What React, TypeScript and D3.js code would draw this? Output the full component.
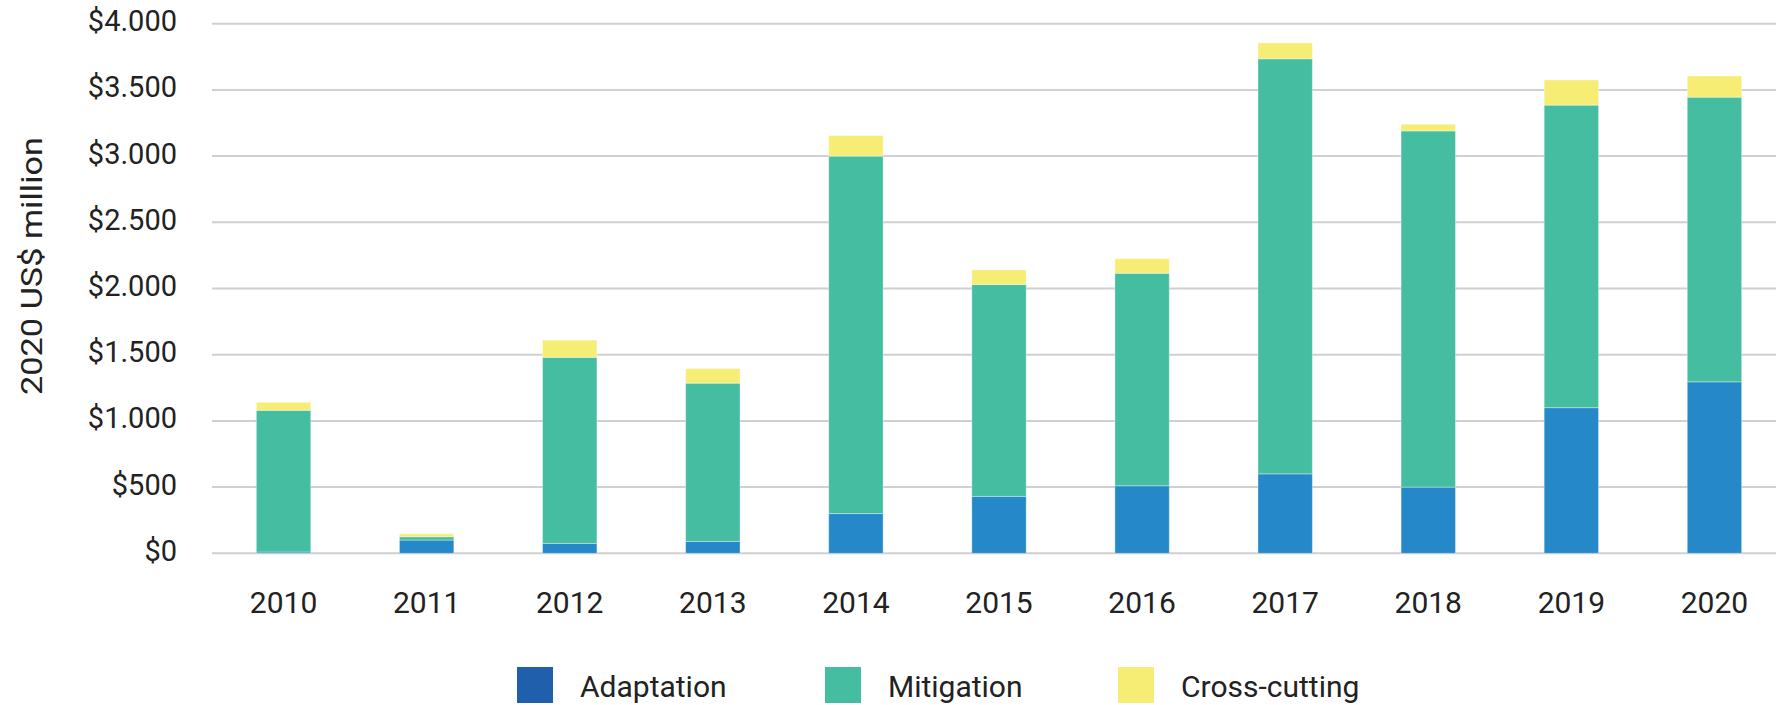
import React, { useEffect, useRef } from "react";
import * as d3 from "d3";

// data (2020 US$ million)
const years = ["2010", "2011", "2012", "2013", "2014", "2015", "2016", "2017", "2018", "2019", "2020"];
const adaptation = [10, 100, 75, 90, 300, 430, 510, 600, 500, 1100, 1295];
const mitigation = [1070, 25, 1405, 1195, 2700, 1600, 1605, 3135, 2690, 2285, 2150];
const crossCutting = [60, 23, 130, 110, 155, 110, 110, 120, 50, 190, 160];

const seriesNames = ["Adaptation", "Mitigation", "Cross-cutting"];
const barColors = ["#2488c9", "#45bda0", "#f6ee74"];
const legendColors = ["#1f5fab", "#45bda0", "#f6ee74"];
const yTicks = [0, 500, 1000, 1500, 2000, 2500, 3000, 3500, 4000];

const W = 1776;
const H = 705;
const FONT = "Roboto, 'Noto Sans', sans-serif";

const App = () => {
  const ref = useRef<SVGSVGElement>(null);

  useEffect(() => {
    const svg = d3.select(ref.current);
    svg.selectAll("*").remove();

    const rows = years.map((y, i) => ({
      year: y,
      a: adaptation[i],
      m: mitigation[i],
      c: crossCutting[i],
    }));
    const stacked = d3.stack<any>().keys(["a", "m", "c"])(rows);

    const x = d3.scaleBand().domain(years).range([212, 1786]).paddingInner(0.62).paddingOuter(0.31);
    const y = d3.scaleLinear().domain([0, 4000]).range([553.3, 23.7]);

    // gridlines + y labels
    const yg = svg.append("g");
    yg.selectAll("line")
      .data(yTicks)
      .enter()
      .append("line")
      .attr("x1", 212)
      .attr("x2", W)
      .attr("y1", (d) => y(d))
      .attr("y2", (d) => y(d))
      .attr("stroke", "#d0d0d0")
      .attr("stroke-width", 2);
    yg.selectAll("text")
      .data(yTicks)
      .enter()
      .append("text")
      .attr("x", 177)
      .attr("y", (d) => y(d) - 3)
      .attr("dy", "0.36em")
      .attr("text-anchor", "end")
      .attr("font-family", FONT)
      .attr("font-size", 29)
      .attr("fill", "#222")
      .text((d) => "$" + d3.format(",")(d).replace(",", "."));

    // stacked bars
    svg
      .append("g")
      .selectAll("g")
      .data(stacked)
      .enter()
      .append("g")
      .attr("fill", (_, i) => barColors[i])
      .selectAll("rect")
      .data((s) => s)
      .enter()
      .append("rect")
      .attr("x", (d: any) => x(d.data.year)!)
      .attr("width", x.bandwidth())
      .attr("y", (d) => y(d[1]))
      .attr("height", (d) => y(d[0]) - y(d[1]))
      .attr("stroke", "rgba(255,255,255,0.35)")
      .attr("stroke-width", 1);

    // x labels
    svg
      .append("g")
      .selectAll("text")
      .data(years)
      .enter()
      .append("text")
      .attr("x", (d) => x(d)! + x.bandwidth() / 2)
      .attr("y", 613)
      .attr("text-anchor", "middle")
      .attr("font-family", FONT)
      .attr("font-size", 30)
      .attr("fill", "#222")
      .text((d) => d);

    // y title
    svg
      .append("text")
      .attr("transform", `translate(42,266) rotate(-90)`)
      .attr("text-anchor", "middle")
      .attr("font-family", FONT)
      .attr("font-size", 29)
      .attr("fill", "#222")
      .attr("textLength", 258)
      .attr("lengthAdjust", "spacingAndGlyphs")
      .text("2020 US$ million");

    // legend
    const legendX = [517, 825, 1118];
    const lg = svg
      .append("g")
      .selectAll("g")
      .data(seriesNames)
      .enter()
      .append("g")
      .attr("transform", (_, i) => `translate(${legendX[i]},667)`);
    lg.append("rect")
      .attr("width", 36)
      .attr("height", 36)
      .attr("fill", (_, i) => legendColors[i]);
    lg.append("text")
      .attr("x", 63)
      .attr("y", 30)
      .attr("font-family", FONT)
      .attr("font-size", 30)
      .attr("fill", "#222")
      .text((d) => d);
  }, []);

  return (
    <svg
      ref={ref}
      width={W}
      height={H}
      style={{ position: "fixed", left: 0, top: 0, background: "#fff" }}
    ></svg>
  );
};

export default App;
